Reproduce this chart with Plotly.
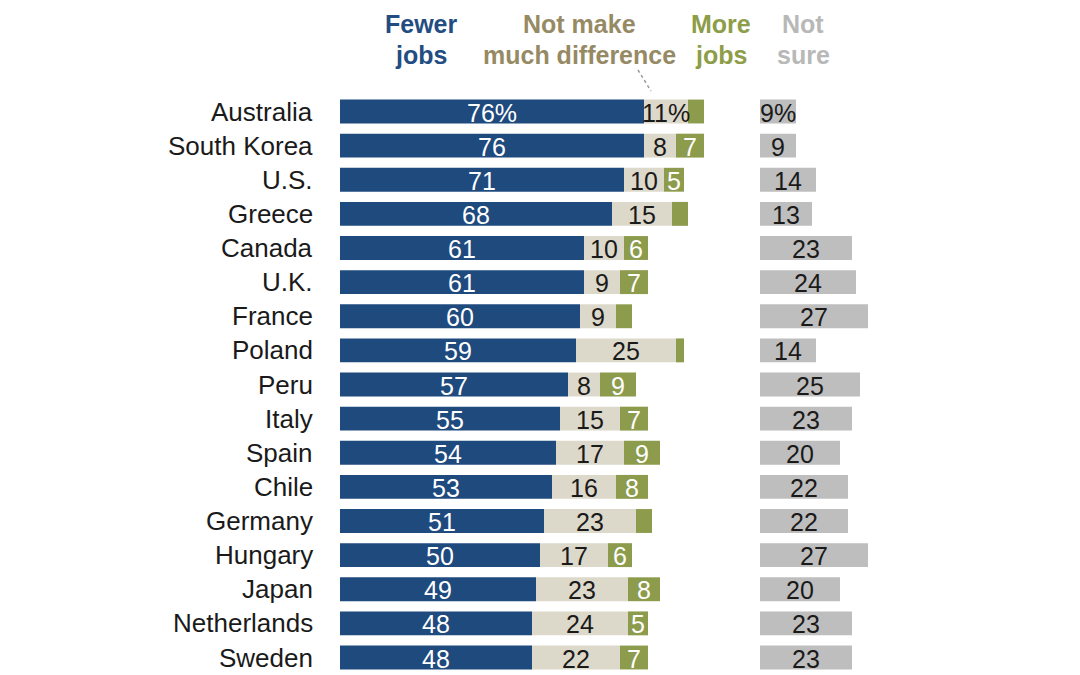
import plotly.graph_objects as go

countries = ["Australia", "South Korea", "U.S.", "Greece", "Canada", "U.K.", "France",
             "Poland", "Peru", "Italy", "Spain", "Chile", "Germany", "Hungary", "Japan",
             "Netherlands", "Sweden"]
fewer = [76, 76, 71, 68, 61, 61, 60, 59, 57, 55, 54, 53, 51, 50, 49, 48, 48]
notmuch = [11, 8, 10, 15, 10, 9, 9, 25, 8, 15, 17, 16, 23, 17, 23, 24, 22]
more = [4, 7, 5, 4, 6, 7, 4, 2, 9, 7, 9, 8, 4, 6, 8, 5, 7]
notsure = [9, 9, 14, 13, 23, 24, 27, 14, 25, 23, 20, 22, 22, 27, 20, 23, 23]

headers = [("Fewer", "jobs"), ("Not make", "much difference"), ("More", "jobs"), ("Not", "sure")]

C_BLUE = "#1f4a7e"
C_BEIGE = "#dcd8ca"
C_GREEN = "#8c9b4c"
C_GRAY = "#bebebe"
H_COLORS = ["#234d82", "#968a64", "#8d9d48", "#b8b8b8"]
FONT = "Liberation Sans, Arial, sans-serif"

W, H = 1080, 675
OFF = 8  # page body margin
ys = list(range(len(countries)))
row_px = 34.125
y0_px = 111.5 - OFF

fig = go.Figure()
BW = 0.70

fig.add_trace(go.Bar(y=ys, x=fewer, orientation="h", marker=dict(color=C_BLUE, line_width=0),
                     width=BW, xaxis="x", yaxis="y", hoverinfo="skip"))
fig.add_trace(go.Bar(y=ys, x=notmuch, base=fewer, orientation="h",
                     marker=dict(color=C_BEIGE, line_width=0), width=BW, xaxis="x", yaxis="y",
                     hoverinfo="skip"))
base_more = [a + b for a, b in zip(fewer, notmuch)]
fig.add_trace(go.Bar(y=ys, x=more, base=base_more, orientation="h",
                     marker=dict(color=C_GREEN, line_width=0), width=BW, xaxis="x", yaxis="y",
                     hoverinfo="skip"))
fig.add_trace(go.Bar(y=ys, x=notsure, orientation="h", marker=dict(color=C_GRAY, line_width=0),
                     width=BW, xaxis="x2", yaxis="y", hoverinfo="skip"))

def fmt(v, i):
    return f"{v}%" if i == 0 else f"{v}"

annotations = []

def add_label(x, y, txt, xref, color):
    annotations.append(dict(x=x, y=y, xref=xref, yref="y", text=txt, showarrow=False,
                            xanchor="center", yanchor="middle", yshift=-1,
                            font=dict(family=FONT, size=25, color=color)))

for i in ys:
    add_label(fewer[i] / 2, i, fmt(fewer[i], i), "x", "white")
    add_label(fewer[i] + notmuch[i] / 2, i, fmt(notmuch[i], i), "x", "#1a1a1a")
    if more[i] >= 5:
        add_label(base_more[i] + more[i] / 2, i, fmt(more[i], i), "x", "white")
    add_label(notsure[i] / 2, i, fmt(notsure[i], i), "x2", "#1a1a1a")

for i, c in enumerate(countries):
    annotations.append(dict(x=(315 - OFF) / W, xref="paper", y=i, yref="y", text=c,
                            showarrow=False, xanchor="right", yanchor="middle",
                            font=dict(family=FONT, size=26, color="#1a1a1a")))

hx = [421, 579, 721, 803]
for (l1, l2), x, col in zip(headers, hx, H_COLORS):
    for txt, py in ((l1, 24), (l2, 55)):
        annotations.append(dict(x=(x - OFF) / W, xref="paper", y=1 - (py - OFF) / H,
                                yref="paper", text=f"<b>{txt}</b>", showarrow=False,
                                xanchor="center", yanchor="middle",
                                font=dict(family=FONT, size=25, color=col)))

shapes = [dict(type="line", xref="paper", yref="paper", x0=(638 - OFF) / W,
               y0=1 - (70 - OFF) / H, x1=(651 - OFF) / W, y1=1 - (91 - OFF) / H,
               line=dict(color="#999999", width=1.5, dash="dot"))]

top = -y0_px / row_px
bottom = (H - y0_px) / row_px

fig.update_layout(
    width=W, height=H, margin=dict(l=0, r=0, t=0, b=0),
    paper_bgcolor="white", plot_bgcolor="white", showlegend=False, barmode="overlay",
    xaxis=dict(domain=[(340 - OFF) / W, (740 - OFF) / W], range=[0, 100], visible=False,
               fixedrange=True),
    xaxis2=dict(domain=[(760 - OFF) / W, (880 - OFF) / W], range=[0, 30], visible=False,
                anchor="y", fixedrange=True),
    yaxis=dict(range=[bottom, top], visible=False, domain=[0, 1], fixedrange=True),
    annotations=annotations, shapes=shapes,
)

fig.write_html("out.html")
